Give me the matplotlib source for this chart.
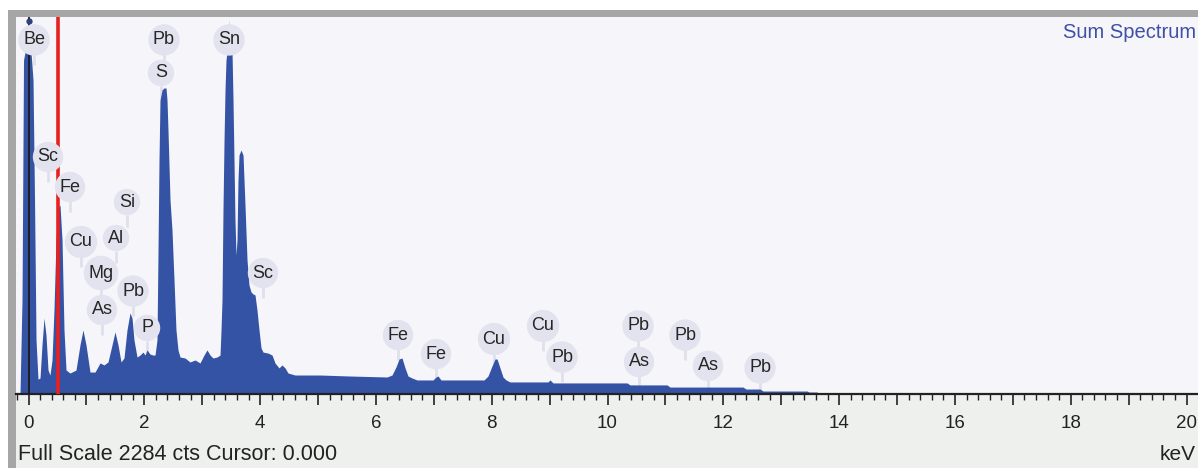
import matplotlib
matplotlib.use("Agg")
import matplotlib.pyplot as plt
from matplotlib.patches import Rectangle
from matplotlib.ticker import MultipleLocator, FuncFormatter

plt.rcParams['font.family'] = ['Liberation Sans', 'DejaVu Sans']

# ---- spectrum (energy in keV, counts) ----
energy_kev = [-0.147, -0.112, -0.086, -0.060, 0.043, 0.078, 0.104, 0.130, 0.164,
              0.199, 0.233, 0.268, 0.302, 0.337, 0.371, 0.406, 0.440, 0.475, 0.509,
              0.544, 0.579, 0.613, 0.648, 0.717, 0.820, 0.889, 0.941, 0.993, 1.062,
              1.149, 1.235, 1.304, 1.373, 1.442, 1.494, 1.546, 1.598, 1.649, 1.701,
              1.753, 1.788, 1.822, 1.874, 1.926, 1.978, 2.012, 2.047, 2.098, 2.150,
              2.185, 2.219, 2.237, 2.254, 2.271, 2.306, 2.340, 2.375, 2.392, 2.409,
              2.444, 2.478, 2.513, 2.547, 2.582, 2.617, 2.703, 2.789, 2.876, 2.962,
              3.031, 3.083, 3.135, 3.187, 3.256, 3.308, 3.325, 3.342, 3.359, 3.377,
              3.394, 3.411, 3.428, 3.452, 3.463, 3.474, 3.515, 3.532, 3.549, 3.566,
              3.584, 3.601, 3.618,
              3.636, 3.670, 3.705, 3.739, 3.774, 3.808, 3.843, 3.877, 3.912, 3.946,
              3.981, 4.016, 4.050, 4.136, 4.206, 4.257, 4.326, 4.378, 4.430, 4.482,
              4.603, 5.035, 5.553, 6.192, 6.278, 6.347, 6.399, 6.451, 6.503, 6.554,
              6.623, 6.710, 6.986, 7.038, 7.073, 7.124, 7.867, 7.936, 8.005, 8.057,
              8.092, 8.143, 8.195, 8.247, 8.316, 8.972, 9.007, 9.059, 10.337, 10.389,
              11.028, 11.079, 12.340, 12.392, 12.634, 12.686, 13.446, 13.480, 13.618,
              13.653, 20.2]
counts = [0, 569, 2023, 2072, 2072, 1902, 1175, 327, 90,
          97, 297, 460, 357, 145, 115, 206, 509, 933, 1127,
          1145, 933, 388, 145, 127, 145, 297, 388, 297, 133,
          133, 188, 176, 194, 297, 376, 297, 194, 218, 388,
          491, 460, 327, 224, 236, 254, 236, 267, 242, 236,
          236, 327, 872, 1418, 1781, 1842, 1854, 1854, 1781, 1599,
          1175, 994, 691, 388, 267, 224, 218, 194, 206, 188,
          236, 267, 236, 218, 224, 236, 388, 569, 1115, 1539,
          1842, 2023, 2072, 2080, 2270, 2080, 2072, 1781, 1418, 1054,
          842, 933, 1296,
          1448, 1478, 1448, 1145, 812, 660, 618, 606, 600, 509,
          388, 279, 254, 248, 236, 188, 158, 176, 158, 127,
          115, 115, 109, 103, 115, 164, 212, 218, 158, 109,
          97, 85, 85, 103, 109, 85, 85, 109, 170, 212,
          212, 158, 103, 85, 73, 73, 85, 67, 67, 55,
          55, 42, 42, 30, 30, 18, 18, 12, 12,
          0, 0]

# ---- peak labels: element, energy (keV), counts of the bubble centre ----
label_text = ['Be', 'Sc', 'Fe', 'Si', 'Cu', 'Al', 'Mg', 'Pb', 'As', 'P',
              'Pb', 'S', 'Sn', 'Sc', 'Fe', 'Fe', 'Cu', 'Cu', 'Pb', 'Pb',
              'As', 'Pb', 'As', 'Pb']
label_kev = [0.095, 0.337, 0.717, 1.701, 0.907, 1.511, 1.252, 1.805, 1.269, 2.047,
             2.340, 2.288, 3.463, 4.050, 6.382, 7.038, 8.040, 8.886, 9.214, 10.527,
             10.544, 11.339, 11.736, 12.634]
label_cts = [2145, 1436, 1254, 1163, 921, 945, 733, 624, 509, 400,
             2145, 1945, 2145, 733, 357, 242, 333, 412, 224, 412,
             194, 357, 170, 158]

full_scale = 2284
cursor_kev = 0.0
marker_kev = 0.504

W, H = 1198, 468
fig = plt.figure(figsize=(W / 100, H / 100), dpi=100)
fig.patch.set_facecolor('white')

# frame and bottom panel
fig.patches.append(Rectangle((8 / W, 0), 1 - 8 / W, (H - 10) / H,
                             transform=fig.transFigure, facecolor='#A6A6A6',
                             edgecolor='none', zorder=-10))
fig.patches.append(Rectangle((16 / W, 0), 1 - 16 / W, (H - 17) / H,
                             transform=fig.transFigure, facecolor='#EEF0EE',
                             edgecolor='none', zorder=-9))

ax = fig.add_axes([16 / W, (H - 394) / H, 1 - 16 / W, (394 - 17) / H])
ax.set_zorder(1)
ax.set_facecolor('#F5F5FA')
ax.set_xlim(-0.216, 20.198)
ax.set_ylim(0, full_scale)

ax.fill_between(energy_kev, counts, 0, color='#3553A5', lw=0, zorder=2)

ax.axvline(marker_kev, color='#E8201E', lw=2.6, zorder=4)
ax.axvline(cursor_kev, color='#1A1A1A', lw=1.3, zorder=5)
ax.plot([cursor_kev], [full_scale * 0.99], 'o', color='#30407A', ms=3.5,
        zorder=5, clip_on=False)

for t, xk, yc in zip(label_text, label_kev, label_cts):
    ax.plot([xk, xk], [yc - 150, yc - 80], color='#E0E0EC', lw=2, zorder=1.5,
            solid_capstyle='butt')
    ax.text(xk, yc, t, ha='center', va='center', fontsize=13, color='#262626',
            zorder=6,
            bbox=dict(boxstyle='circle,pad=0.26', facecolor='#E3E3EF',
                      edgecolor='none'))

for s in ['top', 'right', 'left']:
    ax.spines[s].set_visible(False)
ax.spines['bottom'].set_color('#222222')
ax.spines['bottom'].set_linewidth(1.6)
ax.set_yticks([])
ax.xaxis.set_major_locator(MultipleLocator(1))
ax.xaxis.set_minor_locator(MultipleLocator(0.2))
ax.xaxis.set_major_formatter(FuncFormatter(
    lambda v, p: '%d' % round(v) if round(v) % 2 == 0 else ''))
ax.tick_params(axis='x', which='major', length=8, width=1.2, color='#222222',
               labelsize=13.5, labelcolor='#222222', pad=7)
ax.tick_params(axis='x', which='minor', length=4.5, width=1.0, color='#222222')

fig.text(18 / W, 1 - 455 / H, 'Full Scale %d cts Cursor: %.3f' % (full_scale, cursor_kev),
         ha='left', va='center', fontsize=15.5, color='#222222')
fig.text(1196 / W, 1 - 455 / H, 'keV', ha='right', va='center', fontsize=15,
         color='#222222')
fig.text(1196 / W, 1 - 33 / H, 'Sum Spectrum', ha='right', va='center',
         fontsize=14.5, color='#3F51A5')

fig.savefig('out.png', dpi=100, facecolor=fig.get_facecolor())
